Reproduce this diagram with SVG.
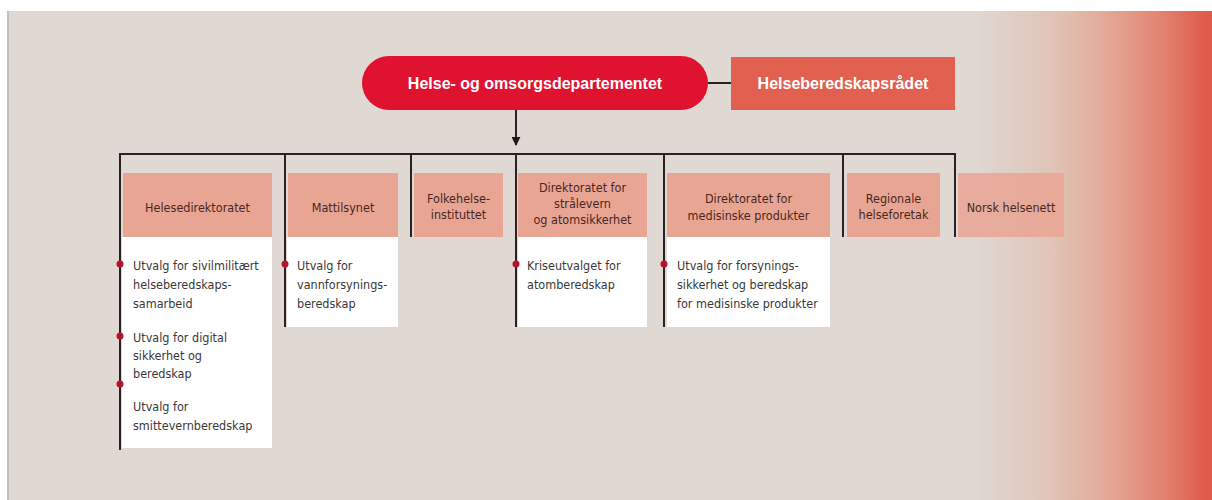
<svg xmlns="http://www.w3.org/2000/svg" width="1212" height="500" viewBox="0 0 1212 500">
  <defs>
    <linearGradient id="bg" gradientUnits="userSpaceOnUse" x1="975" y1="0" x2="1205" y2="0">
      <stop offset="0" stop-color="#dfd8d3"/>
      <stop offset="0.35" stop-color="#e0c3b5"/>
      <stop offset="0.6" stop-color="#e4a593"/>
      <stop offset="0.85" stop-color="#e27c6a"/>
      <stop offset="1" stop-color="#e05b4b"/>
    </linearGradient>
    <marker id="arrow" viewBox="0 0 10 10" refX="9" refY="5" markerWidth="9" markerHeight="9" orient="auto" markerUnits="userSpaceOnUse">
      <path d="M0,0 L10,5 L0,10 z" fill="#1f1a1a"/>
    </marker>
    <style>
      .conn { stroke: #2a2222; stroke-width: 2; fill: none; }
      .hdrbox { fill: #e9a594; }
      .white { fill: #ffffff; }
      .hdr { font-family: "Liberation Sans Narrow", "DejaVu Sans Condensed", "Liberation Sans", sans-serif; font-size: 12.5px; fill: #4a2620; text-anchor: middle; }
      .item { font-family: "Liberation Sans Narrow", "DejaVu Sans Condensed", "Liberation Sans", sans-serif; font-size: 12.5px; fill: #3a3838; }
      .top { font-family: "Liberation Sans", sans-serif; font-size: 16px; font-weight: bold; fill: #ffffff; text-anchor: middle; }
      .dot { fill: #b5122e; }
    </style>
  </defs>

  <rect x="0" y="0" width="1212" height="500" fill="#ffffff"/>
  <rect x="8" y="11" width="1204" height="489" fill="url(#bg)"/>
  <rect x="7" y="11" width="2" height="489" fill="#c6beb9"/>

  <g id="connectors">
    <line class="conn" x1="708" y1="83" x2="731" y2="83"/>
    <line class="conn" x1="516" y1="110" x2="516" y2="145" marker-end="url(#arrow)"/>
    <polyline class="conn" points="120,450 120,154 955,154 955,237"/>
    <line class="conn" x1="285" y1="154" x2="285" y2="327"/>
    <line class="conn" x1="411" y1="154" x2="411" y2="237"/>
    <line class="conn" x1="516" y1="154" x2="516" y2="327"/>
    <line class="conn" x1="664" y1="154" x2="664" y2="327"/>
    <line class="conn" x1="843" y1="154" x2="843" y2="237"/>
  </g>

  <g id="hod">
    <rect x="362" y="56" width="346" height="54" rx="27" fill="#df1230"/>
    <text class="top" x="535" y="89">Helse- og omsorgsdepartementet</text>
  </g>

  <g id="helseberedskapsradet">
    <rect x="731" y="57" width="224" height="53" fill="#e1604f"/>
    <text class="top" x="843" y="89">Helseberedskapsrådet</text>
  </g>

  <g id="helsedirektoratet">
    <rect class="white" x="122" y="237" width="150" height="211"/>
    <rect class="hdrbox" x="123" y="173" width="149" height="64"/>
    <text class="hdr" x="197.5" y="212">Helesedirektoratet</text>
    <circle class="dot" cx="120" cy="264" r="3.5"/>
    <circle class="dot" cx="120" cy="336" r="3.5"/>
    <circle class="dot" cx="120" cy="384" r="3.5"/>
    <text class="item" x="133" y="270">Utvalg for sivilmilitært</text>
    <text class="item" x="133" y="289">helseberedskaps-</text>
    <text class="item" x="133" y="308">samarbeid</text>
    <text class="item" x="133" y="342">Utvalg for digital</text>
    <text class="item" x="133" y="360">sikkerhet og</text>
    <text class="item" x="133" y="378">beredskap</text>
    <text class="item" x="133" y="411">Utvalg for</text>
    <text class="item" x="133" y="430">smittevernberedskap</text>
  </g>

  <g id="mattilsynet">
    <rect class="white" x="287" y="237" width="111" height="90"/>
    <rect class="hdrbox" x="288" y="173" width="110" height="64"/>
    <text class="hdr" x="343" y="212">Mattilsynet</text>
    <circle class="dot" cx="285" cy="264" r="3.5"/>
    <text class="item" x="297" y="270">Utvalg for</text>
    <text class="item" x="297" y="289">vannforsynings-</text>
    <text class="item" x="297" y="308">beredskap</text>
  </g>

  <g id="folkehelseinstituttet">
    <rect class="hdrbox" x="414" y="173" width="89" height="64"/>
    <text class="hdr" x="458.5" y="203">Folkehelse-</text>
    <text class="hdr" x="458.5" y="219">instituttet</text>
  </g>

  <g id="dsa">
    <rect class="white" x="518" y="237" width="129" height="90"/>
    <rect class="hdrbox" x="518" y="173" width="129" height="64"/>
    <text class="hdr" x="582.5" y="192">Direktoratet for</text>
    <text class="hdr" x="582.5" y="208">strålevern</text>
    <text class="hdr" x="582.5" y="224">og atomsikkerhet</text>
    <circle class="dot" cx="516" cy="264" r="3.5"/>
    <text class="item" x="527" y="270">Kriseutvalget for</text>
    <text class="item" x="527" y="289">atomberedskap</text>
  </g>

  <g id="dmp">
    <rect class="white" x="667" y="237" width="163" height="90"/>
    <rect class="hdrbox" x="667" y="173" width="163" height="64"/>
    <text class="hdr" x="748.5" y="203">Direktoratet for</text>
    <text class="hdr" x="748.5" y="220">medisinske produkter</text>
    <circle class="dot" cx="664" cy="264" r="3.5"/>
    <text class="item" x="677" y="270">Utvalg for forsynings-</text>
    <text class="item" x="677" y="289">sikkerhet og beredskap</text>
    <text class="item" x="677" y="308">for medisinske produkter</text>
  </g>

  <g id="regionale">
    <rect class="hdrbox" x="847" y="173" width="93" height="64"/>
    <text class="hdr" x="893.5" y="203">Regionale</text>
    <text class="hdr" x="893.5" y="219">helseforetak</text>
  </g>

  <g id="norsk-helsenett">
    <rect class="hdrbox" x="958" y="173" width="106" height="64" fill-opacity="0.85"/>
    <text class="hdr" x="1011" y="212">Norsk helsenett</text>
  </g>
</svg>
